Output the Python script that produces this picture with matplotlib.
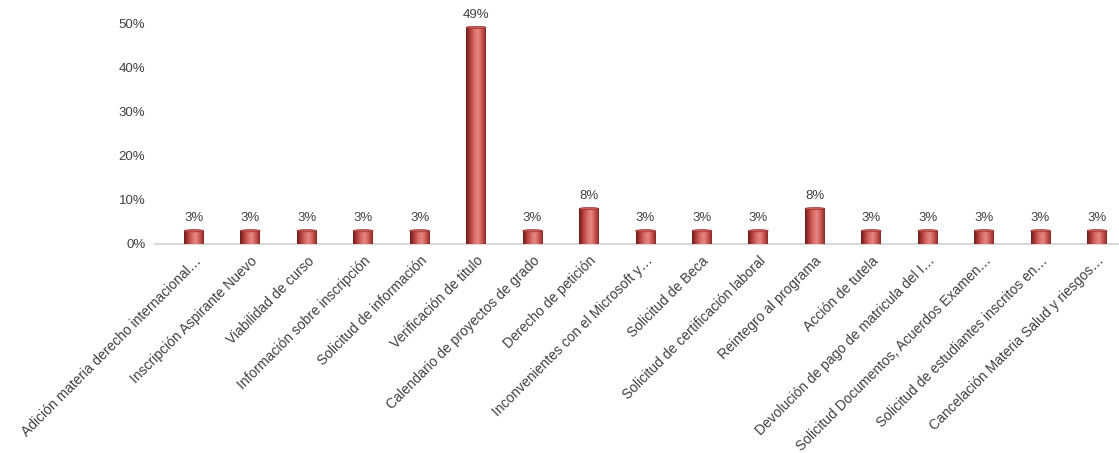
import numpy as np
import matplotlib.pyplot as plt
from matplotlib.colors import LinearSegmentedColormap
from matplotlib.patches import Ellipse

categories = [
    "Adición materia derecho internacional…",
    "Inscripción Aspirante Nuevo",
    "Viabilidad de curso",
    "Información sobre inscripción",
    "Solicitud de información",
    "Verificación de titulo",
    "Calendario de proyectos de grado",
    "Derecho de petición",
    "Inconvenientes con el Microsoft y…",
    "Solicitud de Beca",
    "Solicitud de certificación laboral",
    "Reintegro al programa",
    "Acción de tutela",
    "Devolución de pago de matricula del I…",
    "Solicitud Documentos, Acuerdos Examen…",
    "Solicitud de estudiantes inscritos en…",
    "Cancelación Materia Salud y riesgos…",
]
values = [3, 3, 3, 3, 3, 49, 3, 8, 3, 3, 3, 8, 3, 3, 3, 3, 3]
yticks = [0, 10, 20, 30, 40, 50]

plt.rcParams['font.family'] = ['Liberation Sans', 'DejaVu Sans']

fig = plt.figure(figsize=(11.19, 4.53), dpi=100)
ax = fig.add_axes([0.1385, 0.4614, 0.8615, 0.4878])

x = np.arange(len(categories))
bars = ax.bar(x, values, width=0.35, color='#c0504d', zorder=2)

# cylinder shading
cyl = LinearSegmentedColormap.from_list(
    'cyl', ['#6e1c1a', '#b03e3a', '#d86a65', '#e48a85', '#cc5651', '#8c2b28'])
grad = np.linspace(0, 1, 64).reshape(1, -1)
for b in bars:
    x0, y0 = b.get_x(), b.get_y()
    w, h = b.get_width(), b.get_height()
    im = ax.imshow(grad, cmap=cyl, extent=[x0, x0 + w, y0, y0 + h],
                   aspect='auto', zorder=3, origin='lower')
    im.set_clip_path(b)
    ax.add_patch(Ellipse((x0 + w / 2, y0 + h), w, 0.5, facecolor='#cf5c57',
                         edgecolor='#9a3330', lw=0.5, zorder=4))

for xi, v in zip(x, values):
    ax.text(xi, v + 1.5, f"{v}%", ha='center', va='bottom', fontsize=9.5,
            color='#404040', clip_on=False)

ax.set_xlim(-0.69, 16.39)
ax.set_ylim(0, 50)
ax.set_yticks(yticks)
ax.set_yticklabels([f"{t}%" for t in yticks], fontsize=9.5, color='#404040')
ax.set_xticks(x)
ax.set_xticklabels(categories, rotation=45, ha='right', rotation_mode='anchor',
                   fontsize=10, color='#404040')
ax.tick_params(axis='both', length=0)
ax.tick_params(axis='y', pad=7)
ax.tick_params(axis='x', pad=7)
for s in ['top', 'right', 'left']:
    ax.spines[s].set_visible(False)
ax.spines['bottom'].set_color('#d9d9d9')
ax.spines['bottom'].set_linewidth(1.5)

fig.savefig('out.png', dpi=100)
